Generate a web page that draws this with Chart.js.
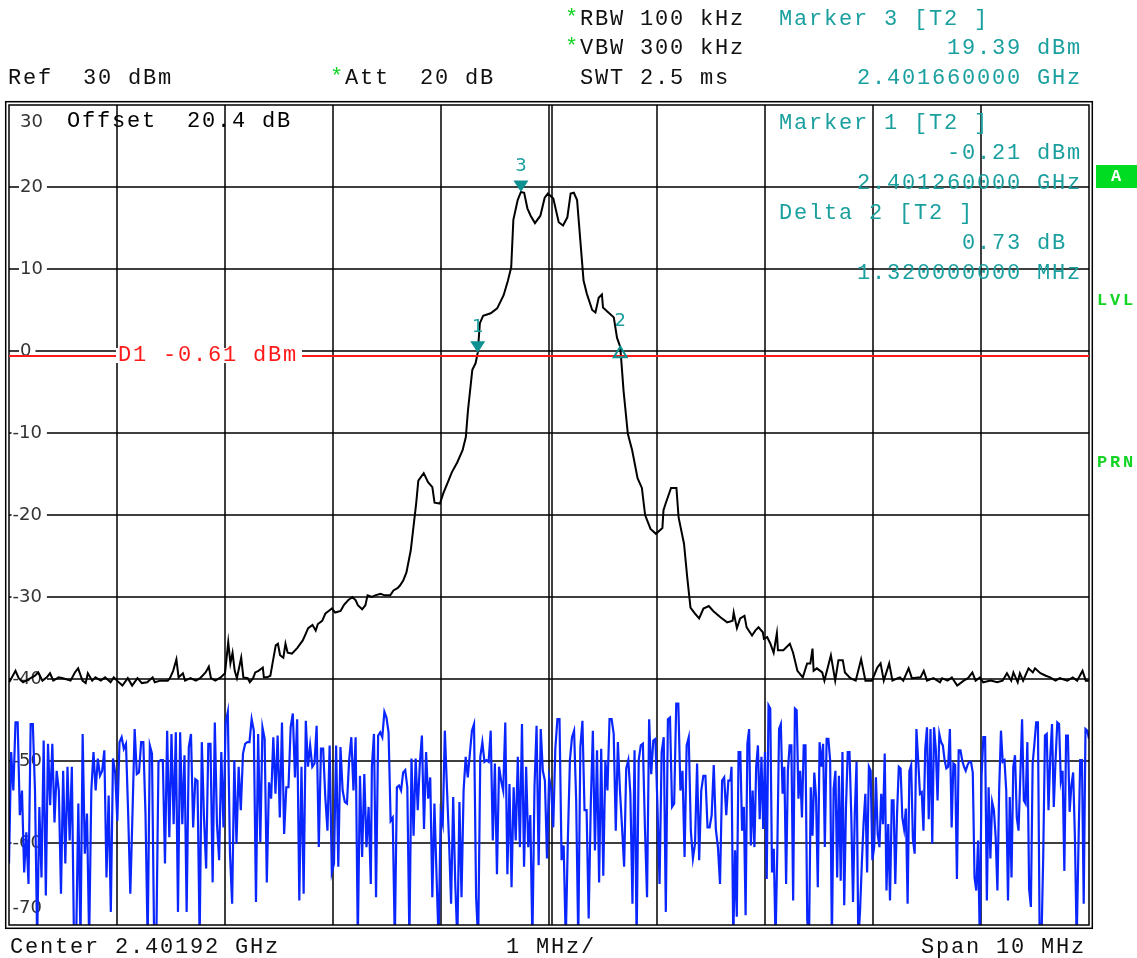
<!DOCTYPE html>
<html>
<head>
<meta charset="utf-8">
<script src="https://cdn.jsdelivr.net/npm/chart.js@4.4.1/dist/chart.umd.min.js"></script>
<style>
  html, body { margin: 0; padding: 0; background: #fff; }
  canvas { display: block; }
</style>
</head>
<body>
<canvas id="spec" width="1137" height="958"></canvas>
<script>
// ---- sweep settings ----
const centerGHz = 2.40192;
const spanMHz = 10;
const yTicks = [30, 20, 10, 0, -10, -20, -30, -40, -50, -60, -70];
const xGridMHz = [-4, -3, -2, -1, 0, 1, 2, 3, 4];
const displayLineDbm = -0.61;

// ---- markers (offset from center in MHz, level in dBm) ----
const markerIds = ["1", "3", "2"];
const markerFreqMHz = [-0.66, -0.26, 0.66];
const markerLevel = [-0.21, 19.39, 0.52];

// ---- trace 2 (black): frequency offset in MHz / level in dBm ----
const traceFreqMHz = [
  -5.00,-4.99,-4.94,-4.91,-4.87,-4.80,-4.76,-4.73,-4.69,-4.65,
  -4.62,-4.59,-4.54,-4.50,-4.43,-4.39,-4.36,-4.32,-4.29,-4.27,
  -4.23,-4.20,-4.15,-4.11,-4.06,-4.03,-4.00,-3.95,-3.90,-3.86,
  -3.81,-3.77,-3.72,-3.67,-3.65,-3.60,-3.53,-3.51,-3.48,-3.45,
  -3.43,-3.39,-3.37,-3.32,-3.27,-3.23,-3.18,-3.15,-3.13,-3.09,
  -3.04,-3.00,-2.97,-2.95,-2.93,-2.91,-2.89,-2.85,-2.83,-2.79,
  -2.77,-2.74,-2.72,-2.69,-2.65,-2.64,-2.61,-2.58,-2.56,-2.53,
  -2.51,-2.49,-2.46,-2.44,-2.42,-2.38,-2.33,-2.28,-2.26,-2.23,
  -2.19,-2.16,-2.14,-2.10,-2.07,-2.04,-2.01,-1.98,-1.93,-1.90,
  -1.86,-1.82,-1.79,-1.77,-1.73,-1.70,-1.68,-1.64,-1.61,-1.56,
  -1.52,-1.47,-1.44,-1.40,-1.38,-1.35,-1.32,-1.28,-1.23,-1.21,
  -1.16,-1.12,-1.08,-1.06,-1.01,-0.98,-0.94,-0.90,-0.85,-0.80,
  -0.77,-0.75,-0.71,-0.68,-0.66,-0.64,-0.61,-0.54,-0.48,-0.42,
  -0.38,-0.35,-0.33,-0.29,-0.26,-0.23,-0.20,-0.17,-0.13,-0.08,
  -0.04,-0.01,0.04,0.09,0.13,0.17,0.20,0.23,0.26,0.29,
  0.32,0.35,0.40,0.43,0.46,0.49,0.50,0.55,0.60,0.63,
  0.66,0.69,0.73,0.77,0.82,0.86,0.89,0.94,0.99,1.05,
  1.06,1.08,1.13,1.18,1.20,1.25,1.28,1.31,1.35,1.39,
  1.43,1.48,1.52,1.59,1.65,1.70,1.71,1.74,1.77,1.81,
  1.83,1.88,1.91,1.94,1.98,1.99,2.02,2.05,2.08,2.11,
  2.12,2.17,2.23,2.26,2.30,2.35,2.39,2.42,2.44,2.45,
  2.48,2.53,2.55,2.61,2.65,2.68,2.72,2.74,2.79,2.84,
  2.89,2.93,2.99,3.04,3.07,3.10,3.15,3.18,3.23,3.25,
  3.28,3.33,3.36,3.44,3.47,3.50,3.56,3.62,3.64,3.69,
  3.73,3.78,3.84,3.88,3.92,3.95,3.99,4.02,4.09,4.15,
  4.20,4.24,4.28,4.30,4.34,4.36,4.39,4.44,4.48,4.50,
  4.55,4.60,4.64,4.69,4.73,4.80,4.85,4.89,4.94,4.97,
  5.00
];
const traceLevel = [
  -40.4,-40.2,-39.0,-39.9,-40.4,-39.9,-39.6,-39.2,-40.2,-39.8,
  -39.3,-40.2,-39.8,-39.9,-40.2,-39.2,-38.7,-40.2,-40.5,-39.3,
  -40.2,-39.8,-40.2,-39.8,-40.4,-39.8,-40.2,-40.8,-39.9,-40.8,
  -39.9,-40.5,-40.4,-39.8,-40.4,-40.2,-40.2,-39.9,-39.0,-37.6,
  -39.8,-39.3,-40.2,-39.9,-40.2,-39.9,-39.2,-38.5,-39.9,-40.2,
  -39.8,-39.3,-35.5,-38.1,-36.8,-39.0,-39.9,-37.4,-39.8,-39.9,
  -40.4,-39.9,-39.2,-39.0,-38.6,-39.8,-39.8,-39.6,-38.1,-35.9,
  -35.7,-37.1,-37.4,-35.7,-36.8,-36.9,-36.2,-35.3,-34.7,-33.8,
  -33.4,-34.1,-33.3,-32.9,-32.0,-31.7,-31.4,-31.9,-31.7,-31.0,
  -30.4,-30.0,-30.4,-31.0,-31.5,-31.0,-29.8,-30.0,-29.8,-29.6,
  -29.8,-29.8,-29.2,-28.9,-28.6,-28.0,-27.0,-24.3,-18.6,-15.8,
  -14.9,-16.0,-16.6,-18.5,-18.6,-17.4,-16.1,-14.8,-13.6,-12.1,
  -10.5,-7.2,-2.3,-1.5,-0.2,3.4,4.3,4.6,5.2,6.8,
  8.6,10.2,16.0,18.4,19.4,19.3,17.4,16.5,15.6,16.5,
  18.7,19.2,18.6,15.7,15.3,16.3,19.2,19.3,18.4,13.5,
  8.6,7.0,5.0,4.7,6.5,6.9,5.3,4.7,4.1,1.6,
  0.5,-4.8,-10.1,-12.1,-15.5,-16.7,-20.0,-21.7,-22.3,-21.6,
  -19.4,-18.6,-16.7,-16.7,-20.3,-23.5,-27.6,-31.3,-32.0,-32.6,
  -31.4,-31.1,-31.7,-32.5,-33.1,-32.9,-31.9,-33.8,-32.6,-32.3,
  -33.7,-34.7,-34.1,-33.7,-34.3,-35.1,-34.9,-35.7,-36.8,-34.4,
  -36.5,-36.5,-35.7,-36.8,-39.0,-39.8,-38.1,-38.1,-36.3,-39.0,
  -38.7,-39.2,-40.2,-37.1,-40.2,-37.7,-37.7,-39.2,-39.9,-40.2,
  -37.6,-40.2,-40.2,-38.6,-38.1,-40.2,-38.1,-40.2,-39.9,-39.8,
  -40.2,-38.7,-39.9,-39.8,-39.0,-40.2,-39.9,-40.4,-39.9,-40.2,
  -39.8,-40.8,-40.2,-39.9,-39.2,-40.2,-39.8,-40.4,-40.2,-40.4,
  -40.2,-39.3,-40.2,-39.2,-40.4,-39.3,-40.2,-38.7,-39.2,-38.7,
  -39.3,-39.6,-39.8,-40.2,-39.9,-40.2,-39.8,-40.2,-39.0,-40.2,
  -40.2
];

// ---- trace 1 (blue, noise floor), read in three sweep segments ----
// values below -70 dBm run off the bottom of the screen
const noiseSpansMHz = [[-5.0, -1.65], [-1.64, 1.68], [1.69, 5.0]];
const noiseA = [
  -62.5,-48.9,-53.6,-45.3,-45.3,-56.6,-53.6,-63.6,-58.7,-65.0,-45.5,-45.5,-53.6,-72,-55.6,-64.2,
  -47.5,-66.4,-47.9,-55.4,-47.9,-57.5,-51.2,-53.6,-66.2,-51.2,-62.5,-50.7,-59.7,-50.7,-72,-72,
  -55.2,-72,-46.7,-61.3,-56.4,-72,-53.6,-48.9,-53.6,-49.7,-51.8,-51.2,-48.7,-64.2,-54.2,-68.4,
  -49.7,-51.4,-57.3,-47.7,-47.1,-48.5,-47.9,-56.4,-66.2,-56.4,-46.1,-51.6,-51.4,-47.7,-47.7,-56.4,
  -72,-48.1,-49.1,-72,-72,-50.1,-49.9,-49.9,-62.5,-46.3,-59.3,-46.7,-57.7,-46.5,-68.4,-46.5,
  -57.7,-49.3,-68.4,-48.3,-46.7,-58.1,-52.2,-52.4,-72,-47.7,-56.9,-63.1,-47.9,-47.9,-64.8,-45.3,
  -57.7,-62.1,-48.9,-58.1,-45.3,-44.0,-61.3,-67.4,-49.9,-60.1,-50.7,-56.0,-49.1,-47.9,-47.7,-47.7,
  -44.9,-46.3,-67.2,-46.7,-59.9,-45.9,-47.3,-64.8,-52.6,-54.6,-47.1,-54.0,-46.9,-56.9,-45.3,-58.9,
  -53.2,-53.2,-45.9,-44.2,-52.0,-44.9,-67.0,-50.7,-66.2,-45.1,-50.7,-48.1,-50.7,-50.3,-45.7,-60.5,
  -48.5,-48.5,-54.4,-58.5,-48.1,-63.6,-62.5,-48.1,-62.9,-48.3,-53.6,-55.0,-55.2,-49.9,-47.1,-53.6,
  -47.1,-72,-51.8,-61.7,-51.6,-60.5,-55.6,-65.0
];
const noiseB = [
  -50.7,-46.7,-66.6,-46.9,-46.5,-47.1,-44.0,-44.7,-46.5,-57.3,-56.9,-72,-53.2,-53.0,-53.6,-51.4,
  -51.1,-53.2,-72,-49.7,-59.1,-49.7,-56.0,-50.3,-46.9,-58.3,-48.9,-54.6,-52.0,-66.6,-55.2,-63.8,
  -72,-56.4,-57.7,-46.3,-53.2,-59.7,-67.4,-54.4,-65.0,-72,-55.0,-66.6,-53.6,-49.5,-52.0,-49.1,
  -46.3,-45.5,-66.6,-72,-49.5,-47.7,-50.1,-49.9,-50.1,-46.3,-59.7,-50.3,-63.8,-50.7,-52.4,-53.6,
  -45.3,-63.8,-52.8,-65.4,-53.2,-59.7,-49.5,-60.5,-45.5,-62.9,-50.7,-60.5,-56.6,-72,-53.2,-45.7,
  -62.7,-46.1,-51.2,-52.4,-61.9,-52.0,-53.4,-58.1,-48.5,-44.9,-44.9,-62.1,-60.3,-72,-59.7,-49.9,
  -47.1,-46.3,-54.8,-72,-48.3,-45.1,-56.0,-56.0,-69.2,-55.4,-46.3,-60.9,-48.7,-64.8,-48.5,-64.0,
  -49.9,-53.6,-44.9,-44.9,-46.7,-58.5,-47.7,-53.6,-58.1,-62.9,-50.9,-49.9,-54.0,-67.4,-48.7,-72,
  -49.9,-48.1,-47.9,-58.3,-66.6,-44.9,-51.6,-47.5,-47.3,-55.6,-65.0,-48.9,-47.1,-68.4,-44.9,-44.7,
  -55.6,-55.2,-43.0,-43.0,-53.6,-51.2,-61.7,-48.1,-47.1,-58.5,-61.9,-60.1,-50.3,-62.1,-53.6,-51.8,
  -51.8,-58.1,-58.1,-56.6,-50.5,-58.3,-60.5,-65.0,-52.4,-52.0,-56.6,-52.4,-52.4
];
const noiseC = [
  -50.7,-72,-60.9,-69.0,-48.9,-48.9,-58.5,-55.6,-68.8,-47.9,-46.1,-60.3,-53.6,-60.5,-50.7,-48.1,
  -57.1,-49.5,-58.3,-48.9,-64.4,-43.2,-43.6,-63.6,-60.7,-72,-60.9,-46.1,-45.5,-54.0,-50.7,-65.0,
  -51.2,-48.1,-48.1,-67.0,-43.6,-43.8,-54.6,-51.2,-56.9,-48.1,-48.1,-69.4,-72,-53.2,-59.1,-51.4,
  -54.4,-65.4,-47.7,-50.7,-47.9,-60.5,-47.3,-47.3,-49.9,-72,-53.4,-51.2,-64.2,-51.8,-64.6,-48.9,
  -67.6,-55.6,-48.9,-48.9,-56.6,-67.2,-56.4,-50.1,-72,-68.2,-62.5,-57.5,-54.0,-63.6,-50.7,-51.2,
  -62.1,-60.5,-52.0,-58.9,-60.5,-54.0,-57.7,-49.1,-65.8,-57.7,-67.0,-54.8,-54.8,-65.0,-56.4,-50.7,
  -50.9,-56.9,-58.3,-55.8,-67.4,-51.2,-50.5,-59.5,-61.3,-46.1,-49.9,-54.0,-53.8,-58.5,-48.5,-45.9,
  -57.1,-46.1,-60.1,-45.9,-48.5,-54.8,-46.7,-47.7,-48.1,-49.9,-50.9,-50.7,-46.1,-58.1,-50.3,-50.5,
  -64.4,-48.7,-48.7,-49.9,-50.7,-51.2,-50.5,-50.1,-50.1,-51.4,-64.2,-65.8,-59.7,-72,-51.8,-47.1,
  -47.1,-67.0,-53.2,-61.9,-55.0,-56.0,-59.3,-65.8,-53.4,-46.3,-50.1,-49.9,-53.6,-67.0,-54.4,-64.2,
  -50.7,-49.3,-56.9,-58.5,-51.8,-44.9,-54.8,-55.2,-47.7,-65.6,-67.8,-50.3,-47.9,-45.3,-45.3,-72,
  -72,-61.7,-46.9,-46.7,-56.0,-49.5,-45.5,-55.6,-49.9,-45.3,-45.5,-52.4,-51.2,-63.4,-46.9,-46.9,
  -56.2,-53.0,-51.4,-59.3,-72,-60.5,-49.9,-49.9,-67.4,-46.1,-46.3,-47.3
];

// ---- build datasets ----
const tracePoints = traceFreqMHz.map((f, i) => ({ x: f, y: traceLevel[i] }));

function spreadSweep(levels, span) {
  const [f0, f1] = span;
  return levels.map((v, i) => ({ x: f0 + (f1 - f0) * i / (levels.length - 1), y: v }));
}
const noisePoints = [
  ...spreadSweep(noiseA, noiseSpansMHz[0]),
  ...spreadSweep(noiseB, noiseSpansMHz[1]),
  ...spreadSweep(noiseC, noiseSpansMHz[2])
];

const MONO = '"Liberation Mono", "DejaVu Sans Mono", monospace';
const TEAL = "#1a9f9f";
const GREEN = "#12d424";

// draws monospace text on a fixed 15px character pitch, like the analyzer screen
function monoText(ctx, str, x, y, color) {
  ctx.save();
  ctx.font = "22px " + MONO;
  ctx.fillStyle = color;
  ctx.textAlign = "left";
  ctx.textBaseline = "middle";
  for (let i = 0; i < str.length; i++) ctx.fillText(str[i], x + i * 15, y);
  ctx.restore();
}

/* ================= SCREEN OVERLAY ================= */

const analyzerScreen = {
  id: "analyzerScreen",

  beforeDraw(chart) {
    const ctx = chart.ctx;
    ctx.save();
    ctx.fillStyle = "#fff";
    ctx.fillRect(0, 0, chart.width, chart.height);
    ctx.restore();
  },

  beforeDatasetsDraw(chart) {
    const { ctx, chartArea: a, scales: { x, y } } = chart;
    ctx.save();

    // grid
    ctx.strokeStyle = "#000";
    ctx.lineWidth = 1.5;
    ctx.beginPath();
    xGridMHz.forEach(f => {
      const px = x.getPixelForValue(f);
      ctx.moveTo(px, a.top); ctx.lineTo(px, a.bottom);
      if (f === 0) { ctx.moveTo(px + 3, a.top); ctx.lineTo(px + 3, a.bottom); }
    });
    yTicks.slice(1, -1).forEach(v => {
      const py = y.getPixelForValue(v);
      ctx.moveTo(a.left, py); ctx.lineTo(a.right, py);
    });
    ctx.stroke();

    // level labels inside the grid
    ctx.font = '18px "DejaVu Sans", sans-serif';
    ctx.textBaseline = "middle";
    ctx.textAlign = "left";
    yTicks.forEach((v, i) => {
      let py = y.getPixelForValue(v);
      if (i === 0) py += 17;
      if (i === yTicks.length - 1) py -= 17;
      const digits = String(Math.abs(v));
      const dx = a.left + 11;
      const dw = ctx.measureText(digits).width;
      const mw = v < 0 ? ctx.measureText("-").width + 1 : 0;
      if (i > 0 && i < yTicks.length - 1) {
        ctx.fillStyle = "#fff";
        ctx.fillRect(dx - mw - 1, py - 3, dw + mw + 5, 6);
      }
      ctx.fillStyle = "#333";
      ctx.fillText((v < 0 ? "-" : "") + digits, dx - mw, py);
    });
    ctx.restore();

    // texts inside the screen
    monoText(ctx, "Offset  20.4 dB", 67, 121, "#000");
    monoText(ctx, "Marker 1 [T2 ]", 779, 123, TEAL);
    monoText(ctx, "-0.21 dBm", 947, 153, TEAL);
    monoText(ctx, "2.401260000 GHz", 857, 183, TEAL);
    monoText(ctx, "Delta 2 [T2 ]", 779, 213, TEAL);
    monoText(ctx, "0.73 dB", 962, 243, TEAL);
    monoText(ctx, "1.320000000 MHz", 857, 273, TEAL);
  },

  afterDatasetsDraw(chart) {
    const { ctx, chartArea: a, scales: { x, y } } = chart;
    ctx.save();

    // double frame
    ctx.strokeStyle = "#000";
    ctx.lineWidth = 1.5;
    ctx.strokeRect(a.left, a.top, a.right - a.left, a.bottom - a.top);
    ctx.strokeRect(a.left - 3.3, a.top - 3.3, a.right - a.left + 6.6, a.bottom - a.top + 6.6);

    // display line D1
    const dy = y.getPixelForValue(displayLineDbm);
    ctx.strokeStyle = "#ff1a1a";
    ctx.lineWidth = 2;
    ctx.beginPath();
    ctx.moveTo(a.left, dy); ctx.lineTo(a.right, dy);
    ctx.stroke();
    ctx.fillStyle = "#fff";
    ctx.fillRect(116, dy - 8, 186, 15);
    ctx.restore();
    monoText(ctx, "D1 -0.61 dBm", 118, dy - 1, "#ff1a1a");

    // markers
    ctx.save();
    markerIds.forEach((id, i) => {
      const px = x.getPixelForValue(markerFreqMHz[i]);
      const py = y.getPixelForValue(markerLevel[i]);
      ctx.fillStyle = "#0f9191";
      ctx.strokeStyle = "#0f9191";
      ctx.beginPath();
      if (id === "2") {
        ctx.moveTo(px, py); ctx.lineTo(px - 6.5, py + 10.5); ctx.lineTo(px + 6.5, py + 10.5);
        ctx.closePath();
        ctx.lineWidth = 2;
        ctx.stroke();
      } else {
        ctx.moveTo(px, py); ctx.lineTo(px - 7.5, py - 11.5); ctx.lineTo(px + 7.5, py - 11.5);
        ctx.closePath();
        ctx.fill();
      }
      ctx.font = '18px "DejaVu Sans", sans-serif';
      ctx.fillStyle = TEAL;
      ctx.textAlign = "center";
      ctx.textBaseline = "middle";
      ctx.fillText(id, px, py - 25.5);
    });

    // side soft-keys
    ctx.fillStyle = "#00dc22";
    ctx.fillRect(1096, 165, 41, 23);
    ctx.font = "bold 17px " + MONO;
    ctx.textBaseline = "middle";
    ctx.textAlign = "center";
    ctx.fillStyle = "#fff";
    ctx.fillText("A", 1116, 177);
    ctx.fillStyle = GREEN;
    ctx.textAlign = "left";
    ["L", "V", "L"].forEach((c, i) => ctx.fillText(c, 1097 + i * 13, 301));
    ["P", "R", "N"].forEach((c, i) => ctx.fillText(c, 1097 + i * 13, 463));
    ctx.restore();

    // header
    monoText(ctx, "*", 565, 18, GREEN);
    monoText(ctx, "RBW 100 kHz", 580, 19.5, "#111");
    monoText(ctx, "*", 565, 47, GREEN);
    monoText(ctx, "VBW 300 kHz", 580, 48.5, "#111");
    monoText(ctx, "SWT 2.5 ms", 580, 78.5, "#111");
    monoText(ctx, "Ref  30 dBm", 8, 78.5, "#111");
    monoText(ctx, "*", 330, 77, GREEN);
    monoText(ctx, "Att  20 dB", 345, 78.5, "#111");
    monoText(ctx, "Marker 3 [T2 ]", 779, 19.5, TEAL);
    monoText(ctx, "19.39 dBm", 947, 48.5, TEAL);
    monoText(ctx, "2.401660000 GHz", 857, 78.5, TEAL);

    // footer
    monoText(ctx, "Center " + centerGHz.toFixed(5) + " GHz", 10, 947, "#111");
    monoText(ctx, (spanMHz / 10) + " MHz/", 506, 947, "#111");
    monoText(ctx, "Span " + spanMHz + " MHz", 921, 947, "#111");
  }
};

new Chart(document.getElementById("spec"), {
  type: "line",
  data: {
    datasets: [
      {
        label: "Trace 2",
        data: tracePoints,
        borderColor: "#000",
        borderWidth: 2,
        pointRadius: 0,
        tension: 0
      },
      {
        label: "Trace 1",
        data: noisePoints,
        borderColor: "#0a26ff",
        borderWidth: 2.2,
        pointRadius: 0,
        tension: 0
      }
    ]
  },
  options: {
    responsive: false,
    animation: false,
    events: [],
    layout: { padding: { left: 9, top: 105, right: 48, bottom: 33 } },
    plugins: { legend: { display: false }, tooltip: { enabled: false } },
    scales: {
      x: { type: "linear", min: -spanMHz / 2, max: spanMHz / 2, display: false },
      y: { min: -70, max: 30, display: false }
    }
  },
  plugins: [analyzerScreen]
});
</script>
</body>
</html>
